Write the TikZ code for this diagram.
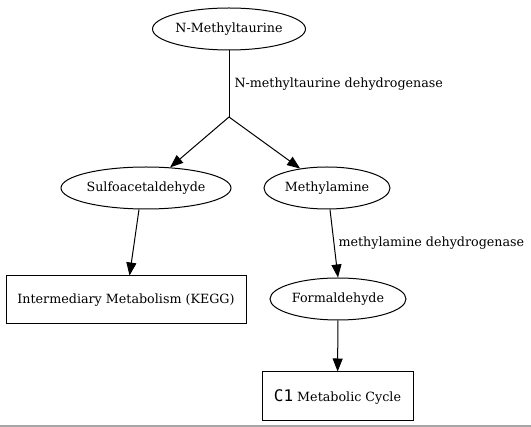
\documentclass[tikz,border=0pt]{standalone}
\usepackage{fontspec}
\setmainfont{DejaVu Serif}
\newfontfamily\monofnt{DejaVu Sans Mono}
\usetikzlibrary{arrows.meta,shapes.geometric}
\begin{document}
\begin{tikzpicture}[x=1pt,y=-1pt,line width=1pt,
  ell/.style={draw,ellipse,inner sep=0pt,minimum width=#1,minimum height=42pt,font=\fontsize{12.7}{14}\selectfont},
  box/.style={draw,rectangle,inner sep=0pt,font=\fontsize{12.7}{14}\selectfont},
  arr/.style={-{Triangle[length=13pt,width=10pt]},line width=1pt},
  lbl/.style={font=\fontsize{12.7}{14}\selectfont,anchor=west,inner sep=0pt}]
\useasboundingbox (0,0) rectangle (531,427);
\draw[gray!70,line width=1.5pt] (0,426) -- (531,426);
\node[ell=153pt] (nmt) at (229,29) {N-Methyltaurine};
\coordinate (j) at (229,117);
\node[ell=170pt] (sa) at (146,188) {Sulfoacetaldehyde};
\node[ell=126pt] (ma) at (327,188) {Methylamine};
\node[box,minimum width=240pt,minimum height=48pt] (im) at (126,300) {Intermediary Metabolism (KEGG)};
\node[ell=136pt] (fa) at (338,299) {Formaldehyde};
\node[box,minimum width=151pt,minimum height=49pt] (c1) at (337.5,396.5) {{\monofnt\fontsize{16}{17}\selectfont C1} Metabolic Cycle};
\draw (nmt) -- (j);
\node[lbl] (l1) at (234,84) {N-methyltaurine dehydrogenase};
\draw[arr] (j) -- (sa);
\draw[arr] (j) -- (ma);
\draw[arr] (sa.south) ++(-7,0) coordinate (sab) (sab) -- (im);
\draw[arr] (ma.south) ++(3,0) coordinate (mab) (mab) -- (fa.north);
\node[lbl] (l2) at (338,243) {methylamine dehydrogenase};
\draw[arr] (fa) -- (c1);
\end{tikzpicture}
\end{document}
